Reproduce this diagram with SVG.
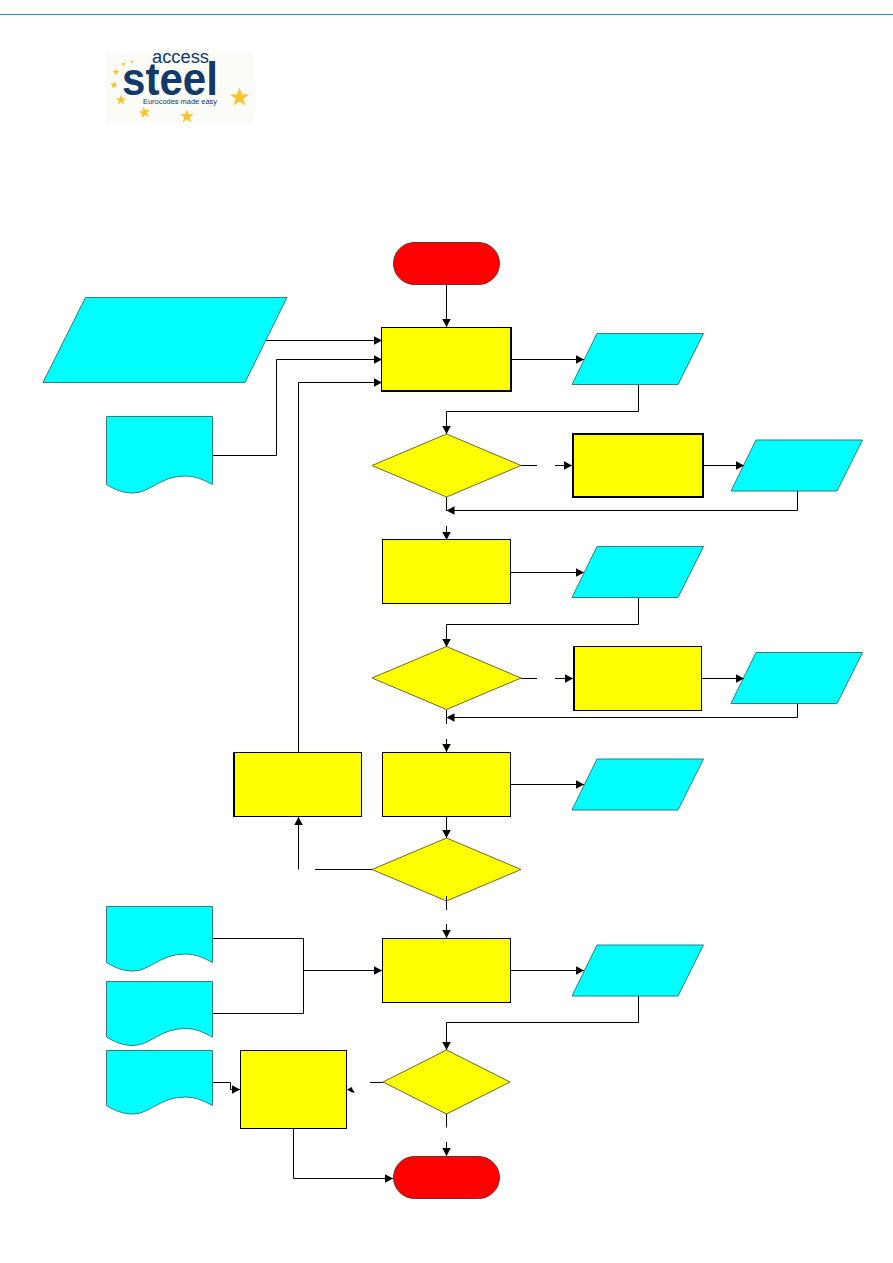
<svg xmlns="http://www.w3.org/2000/svg" width="893" height="1263" viewBox="0 0 893 1263">
<style>
.y{fill:#ffff00;stroke:#000;stroke-width:1}
.t{fill:none;stroke:#000;stroke-width:2}
.d{fill:#ffff00;stroke:#6a6a30;stroke-width:1}
.c{fill:#00ffff;stroke:#2f7f85;stroke-width:1}
.r{fill:#ff0000;stroke:#703030;stroke-width:1}
.l{fill:none;stroke:#000;stroke-width:1}
.a{marker-end:url(#arr)}
.s{fill:#f7c52a}
.g{font-family:"Liberation Sans",sans-serif;fill:#123a68}
</style>
<defs>
<marker id="arr" markerUnits="userSpaceOnUse" markerWidth="10" markerHeight="10" refX="8" refY="4.250" orient="auto"><path d="M0 0L8 4.250L0 8.500Z" fill="#000"/></marker>
<path id="star" d="M0-5L1.180-1.620L4.760-1.550L1.900 .620L2.940 4.050L0 2L-2.940 4.050L-1.900 .620L-4.760-1.550L-1.180-1.620Z"/>
</defs>
<rect width="893" height="1263" fill="#fff"/>
<rect x="0" y="14" width="893" height="1" fill="#0aa0d0"/>
<g id="logo">
<rect x="106" y="52" width="149" height="72" fill="#fbfbf8"/>
<text class="g" x="152" y="62.500" font-size="18" textLength="57" lengthAdjust="spacingAndGlyphs">access</text>
<text class="g" x="122" y="95" font-size="46" font-weight="bold" textLength="96" lengthAdjust="spacingAndGlyphs">steel</text>
<text class="g" x="143" y="104" font-size="8" textLength="74" lengthAdjust="spacingAndGlyphs">Eurocodes made easy</text>
<use href="#star" class="s" transform="translate(239.500 97.500) scale(2)"/>
<use href="#star" class="s" transform="translate(187 116.500) scale(1.450)"/>
<use href="#star" class="s" transform="translate(144.500 112.500) scale(1.250) rotate(-10)"/>
<use href="#star" class="s" transform="translate(121 100) scale(1.100)"/>
<use href="#star" class="s" transform="translate(114 85) scale(.8)"/>
<use href="#star" class="s" transform="translate(116 72) scale(.7)"/>
<use href="#star" class="s" transform="translate(123.500 64) scale(.5)"/>
<use href="#star" class="s" transform="translate(132 62) scale(.4)"/>
</g>
<g id="start"><rect class="r" x="393.500" y="242.500" width="106" height="42" rx="21"/></g>
<g id="end"><rect class="r" x="393.500" y="1156.500" width="106" height="42" rx="21"/></g>
<g id="input1"><path class="c" d="M85.500 297.500H287L245 382.500H43Z"/></g>
<g id="doc1"><path class="c" d="M106.500 416.500H212.500V484.500C204 480 196 476 185 476C160 476 150 493 133 493C122 493 114 489 106.500 484.500Z"/></g>
<g id="doc2"><path class="c" d="M106.500 906.500H212.500V962.500C204 958 196 954 185 954C160 954 150 971 133 971C122 971 114 967 106.500 962.500Z"/></g>
<g id="doc3"><path class="c" d="M106.500 981.500H212.500V1037C204 1032.500 196 1028.500 185 1028.500C160 1028.500 150 1045.500 133 1045.500C122 1045.500 114 1041.500 106.500 1037Z"/></g>
<g id="doc4"><path class="c" d="M106.500 1050.500H212.500V1105.500C204 1101 196 1097 185 1097C160 1097 150 1114 133 1114C122 1114 114 1110 106.500 1105.500Z"/></g>
<g id="box1"><rect class="y" x="381.500" y="327.500" width="129" height="63"/><path class="t" d="M511 327V391H381"/></g>
<g id="box2"><rect class="y" x="573" y="434" width="130" height="63" style="stroke-width:2"/></g>
<g id="box3"><rect class="y" x="382.500" y="539.500" width="128" height="64"/></g>
<g id="box4"><rect class="y" x="574" y="646.500" width="127.500" height="64"/><path class="t" d="M574 646V711"/></g>
<g id="box5"><rect class="y" x="234.500" y="752.500" width="127" height="64"/><path class="t" d="M234 752V817"/></g>
<g id="box6"><rect class="y" x="382.500" y="752.500" width="128" height="64"/></g>
<g id="box7"><rect class="y" x="382.500" y="938.500" width="128" height="64"/></g>
<g id="box8"><rect class="y" x="240.500" y="1050.500" width="106" height="78"/></g>
<g id="dec1"><path class="d" d="M446.500 434L521 465.500L446.500 497L372 465.500Z"/></g>
<g id="dec2"><path class="d" d="M446.500 646.500L521 678L446.500 709.500L372 678Z"/></g>
<g id="dec3"><path class="d" d="M446.500 838L521 869.500L446.500 901L372 869.500Z"/></g>
<g id="dec4"><path class="d" d="M446.500 1050L510 1082L446.500 1114L383 1082Z"/></g>
<g id="out1"><path class="c" d="M597 333.500H703.500L678 384.500H572Z"/></g>
<g id="out2"><path class="c" d="M756 440H862.500L837 491H731Z"/></g>
<g id="out3"><path class="c" d="M597 546.500H703.500L678 597.500H572Z"/></g>
<g id="out4"><path class="c" d="M756 652.500H862.500L837 703.500H731Z"/></g>
<g id="out5"><path class="c" d="M597 759H703.500L678 810H572Z"/></g>
<g id="out6"><path class="c" d="M597 945H703.500L678 996H572Z"/></g>
<g id="connectors">
<path class="l a" d="M446.500 285V327"/>
<path class="l a" d="M266 340.500H382"/>
<path class="l a" d="M213 455.500H276.500V359.500H382"/>
<path class="l a" d="M298.500 752V382.500H382"/>
<path class="l a" d="M511 359.500H584"/>
<path class="l a" d="M638.500 385V411.500H446.500V434"/>
<path class="l" d="M521 465.500H537"/>
<path class="l a" d="M555 465.500H572"/>
<path class="l a" d="M704 465.500H744"/>
<path class="l" d="M446.500 497V511"/>
<path class="l a" d="M797.500 491V510.500H446.500"/>
<path class="l a" d="M446.500 526V540"/>
<path class="l a" d="M511 572.500H584"/>
<path class="l a" d="M638.500 598V624.500H446.500V647"/>
<path class="l" d="M521 678.500H537"/>
<path class="l a" d="M555 678.500H573"/>
<path class="l a" d="M702 678.500H744"/>
<path class="l" d="M446.500 710V724"/>
<path class="l a" d="M797.500 704V717.500H446.500"/>
<path class="l a" d="M446.500 739V752"/>
<path class="l a" d="M511 784.500H584"/>
<path class="l a" d="M446.500 817V838"/>
<path class="l" d="M372 869.500H315"/>
<path class="l a" d="M298.500 869.500V817"/>
<path class="l" d="M446.500 896V910"/>
<path class="l a" d="M446.500 924V938"/>
<path class="l" d="M213 938.500H303.500V1013.500H213"/>
<path class="l a" d="M303.500 970.500H382"/>
<path class="l a" d="M511 970.500H584"/>
<path class="l a" d="M638.500 996V1022.500H446.500V1050"/>
<path class="l" d="M383 1082.500H370"/>
<path class="l a" d="M213 1082.500H230.500V1089.500H240"/>
<path fill="#000" d="M347 1089.500L352 1087L352.500 1089.500L355 1092.500L352 1092.500Z"/>
<path class="l" d="M446.500 1114V1127.500"/>
<path class="l a" d="M446.500 1142V1156"/>
<path class="l a" d="M293.500 1129V1178.500H393"/>
</g>
</svg>
